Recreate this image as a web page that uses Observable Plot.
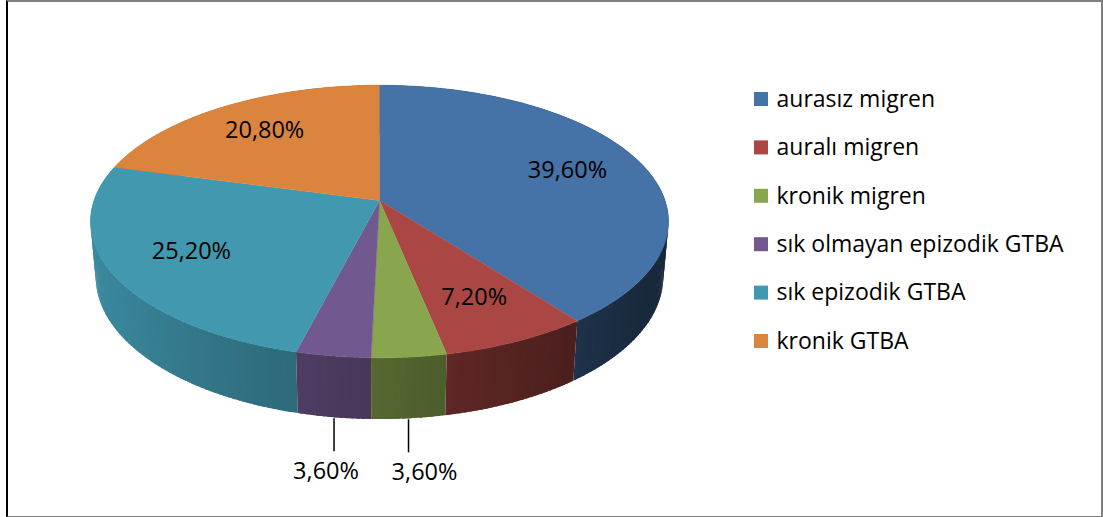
<!DOCTYPE html>
<html>
<head>
<meta charset="utf-8">
<script src="https://cdn.jsdelivr.net/npm/d3@7"></script>
<script src="https://cdn.jsdelivr.net/npm/@observablehq/plot@0.6"></script>
<style>
  html, body { margin: 0; padding: 0; background: #fff; }
  #wrap { position: relative; width: 1103px; height: 517px; overflow: hidden; }
  #frame { position: absolute; left: 6px; top: 0; width: 1093px; height: 514px;
           border-top: 2px solid #7f7f7f; border-right: 2px solid #7f7f7f;
           border-bottom: 1px solid #7f7f7f; border-left: 2px solid #000; pointer-events: none; }
  #chart { position: absolute; left: 0; top: 0; }
</style>
</head>
<body>
<div id="wrap"><div id="chart"></div><div id="frame"></div></div>
<script>
// ---- data ----
const categories = ["aurasız migren", "auralı migren", "kronik migren", "sık olmayan epizodik GTBA", "sık epizodik GTBA", "kronik GTBA"];
const values = [39.6, 7.2, 3.6, 3.6, 25.2, 20.8];
const valueLabels = ["39,60%", "7,20%", "3,60%", "3,60%", "25,20%", "20,80%"];
const colors = ["#4572A7", "#AA4643", "#89A54E", "#71588F", "#4198AF", "#DB843D"];

// ---- 3D projection of the pie ----
const W = 1103, H = 517;
const cx = 379, cy = 200, R = 285.5;
const sinT = 0.466, cosT = 0.885, D = 1638, depth = 63;
function project(theta, r, yw) {
  const X = r * Math.sin(theta), Z = -r * Math.cos(theta);
  const v = Z * sinT - yw * cosT;
  const d = Z * cosT + yw * sinT;
  const f = D / (D - d);
  return [cx + X * f, cy + v * f];
}
const total = d3.sum(values);
let acc = 0;
const slices = values.map((v, i) => {
  const a0 = acc / total * 2 * Math.PI;
  acc += v;
  const a1 = acc / total * 2 * Math.PI;
  return {i, a0, a1, mid: (a0 + a1) / 2, frac: v / total};
});

// side segments (painter's order, far first), slightly overlapping to avoid seams
const sideSegs = [];
slices.forEach(s => {
  const n = Math.max(2, Math.ceil((s.a1 - s.a0) / (Math.PI / 180)));
  const step = (s.a1 - s.a0) / n;
  for (let k = 0; k < n; k++) {
    const t0 = s.a0 + step * k;
    const t1 = Math.min(s.a1, t0 + step * 1.7);
    const tm = t0 + step / 2;
    const shade = Math.max(0.36, 0.62 - 0.3 * Math.sin(tm));
    const c = d3.rgb(colors[s.i]);
    const col = d3.rgb(c.r * shade, c.g * shade, c.b * shade).formatHex();
    sideSegs.push({depthKey: Math.cos(tm), col,
      pts: [project(t0, R, 0), project(t1, R, 0), project(t1, R, -depth), project(t0, R, -depth)]});
  }
});
sideSegs.sort((a, b) => b.depthKey - a.depthKey);
const sideRows = [];
sideSegs.forEach((sg, j) => sg.pts.forEach(p => sideRows.push({id: "s" + j, x: p[0], y: p[1], col: sg.col})));

// top faces
const topRows = [];
slices.forEach(s => {
  topRows.push({id: "t" + s.i, x: cx, y: cy, col: colors[s.i]});
  const n = Math.max(4, Math.ceil((s.a1 - s.a0) / (Math.PI / 360)));
  for (let k = 0; k <= n; k++) {
    const p = project(s.a0 + (s.a1 - s.a0) * k / n, R, 0);
    topRows.push({id: "t" + s.i, x: p[0], y: p[1], col: colors[s.i]});
  }
});

// labels
const inside = slices.filter(s => s.frac >= 0.05).map(s => {
  const p = project(s.mid, R * 0.72, 0);
  return {x: p[0], y: p[1], text: valueLabels[s.i]};
});
const outside = slices.filter(s => s.frac < 0.05).map(s => {
  const p = project(s.mid, R, -depth);
  const right = Math.sin(s.mid) > 0;
  return {x: p[0], y1: p[1] + 1, y2: p[1] + 34, text: valueLabels[s.i], dx: right ? 16 : -8};
});

// legend
const legend = categories.map((c, i) => ({name: c, col: colors[i], y: 99 + i * 48.4}));

const font = "'Open Sans', 'Liberation Sans', sans-serif";
const plot = Plot.plot({
  width: W, height: H,
  margin: 0,
  x: {domain: [0, W], range: [0, W], axis: null},
  y: {domain: [0, H], range: [0, H], axis: null},
  color: {type: "identity"},
  style: {background: "transparent", fontFamily: font},
  marks: [
    Plot.line(sideRows, {x: "x", y: "y", z: "id", fill: "col", stroke: "none"}),
    Plot.line(topRows, {x: "x", y: "y", z: "id", fill: "col", stroke: "col", strokeWidth: 0.5}),
    Plot.text(inside, {x: "x", y: "y", text: "text", fontSize: 23.5, fill: "#000", fontFamily: font}),
    Plot.link(outside, {x1: "x", x2: "x", y1: "y1", y2: "y2", stroke: "#000", strokeWidth: 1.5}),
    ...outside.map(o => Plot.text([o], {x: "x", y: d => d.y2 + 20, text: "text", dx: o.dx, fontSize: 23.5, fill: "#000", fontFamily: font})),
    Plot.rect(legend, {x1: 754, x2: 768, y1: d => d.y - 7, y2: d => d.y + 7, fill: "col"}),
    Plot.text(legend, {x: 776, y: "y", text: "name", textAnchor: "start", fontSize: 23, fill: "#000", fontFamily: font})
  ]
});
document.getElementById("chart").appendChild(plot);
</script>
</body>
</html>
